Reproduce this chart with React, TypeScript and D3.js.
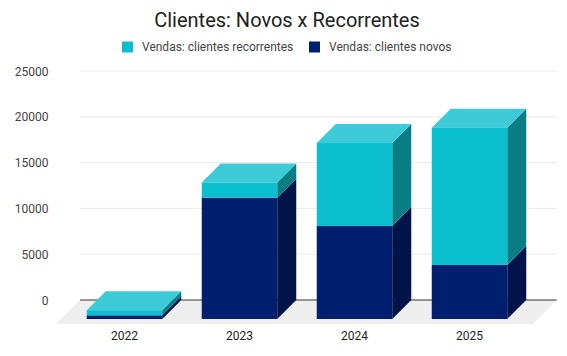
import React from "react";
import * as d3 from "d3";

const categories = ["2022", "2023", "2024", "2025"];
const novos = [400, 13250, 10150, 5900];
const recorrentes = [560, 1650, 9060, 14985];
const yTicks = [0, 5000, 10000, 15000, 20000, 25000];
const seriesNames = ["Vendas: clientes recorrentes", "Vendas: clientes novos"];

const W = 567;
const H = 356;
const DEPTH = 19;
const FLOOR_DEPTH = 24;
const plotLeft = 80;
const plotRight = 556.7;

const colors = {
  novo: { front: "#001f6f", top: "#1a3a8a", side: "#00144a" },
  rec: { front: "#0bbfcf", top: "#3ccbd7", side: "#087d84" },
};

export default function App() {
  const y = d3.scaleLinear().domain([0, 25000]).range([300, 71]);
  const x = d3
    .scaleBand<string>()
    .domain(categories)
    .range([67, 527])
    .paddingInner(0.3435)
    .paddingOuter(0.3435 / 2);
  const bw = x.bandwidth();

  const seg = (cat: string, v0: number, v1: number, c: { front: string; top: string; side: string }, showTop: boolean, key: string) => {
    const x0 = x(cat)!;
    const x1 = x0 + bw;
    const yt = y(v1) + DEPTH;
    const yb = y(v0) + DEPTH;
    const side = `M${x1},${yt} L${x1 + DEPTH},${yt - DEPTH} L${x1 + DEPTH},${yb - DEPTH} L${x1},${yb} Z`;
    const top = `M${x0},${yt} L${x0 + DEPTH},${yt - DEPTH} L${x1 + DEPTH},${yt - DEPTH} L${x1},${yt} Z`;
    return (
      <g key={key}>
        <path d={side} fill={c.side} />
        {showTop && <path d={top} fill={c.top} />}
        <rect x={x0} y={yt} width={bw} height={yb - yt} fill={c.front} />
      </g>
    );
  };

  const floor = `M${plotLeft},${y(0)} L${plotRight},${y(0)} L${plotRight - FLOOR_DEPTH},${y(0) + FLOOR_DEPTH} L${plotLeft - FLOOR_DEPTH},${y(0) + FLOOR_DEPTH} Z`;

  return (
    <svg width={W} height={H} style={{ position: "absolute", left: 0, top: 0, fontFamily: "Roboto, sans-serif" }}>
      <rect width={W} height={H} fill="#ffffff" />
      <text x={287} y={27} textAnchor="middle" fontSize={20} fill="#212121">
        Clientes: Novos x Recorrentes
      </text>
      <g>
        <rect x={122} y={41.5} width={11} height={11} fill={colors.rec.front} />
        <text x={142} y={51} fontSize={12} fill="#444">{seriesNames[0]}</text>
        <rect x={309} y={41.5} width={11} height={11} fill={colors.novo.front} />
        <text x={329} y={51} fontSize={12} fill="#444">{seriesNames[1]}</text>
      </g>
      {yTicks.map((t) => (
        <g key={t}>
          {t !== 0 && <line x1={plotLeft} x2={plotRight} y1={y(t)} y2={y(t)} stroke="#ebebeb" strokeWidth={1} />}
          <text x={48.5} y={y(t) + 4.5} textAnchor="end" fontSize={12} fill="#444">
            {t}
          </text>
        </g>
      ))}
      <path d={floor} fill="#eeeeee" />
      <line x1={plotLeft} x2={plotRight} y1={y(0)} y2={y(0)} stroke="#333" strokeWidth={1} />
      {categories.map((cat, i) => (
        <g key={cat}>
          {seg(cat, 0, novos[i], colors.novo, false, "n")}
          {seg(cat, novos[i], novos[i] + recorrentes[i], colors.rec, true, "r")}
        </g>
      ))}
      {categories.map((cat) => (
        <text key={cat} x={x(cat)! + bw / 2} y={340} textAnchor="middle" fontSize={12} fill="#222">
          {cat}
        </text>
      ))}
    </svg>
  );
}
